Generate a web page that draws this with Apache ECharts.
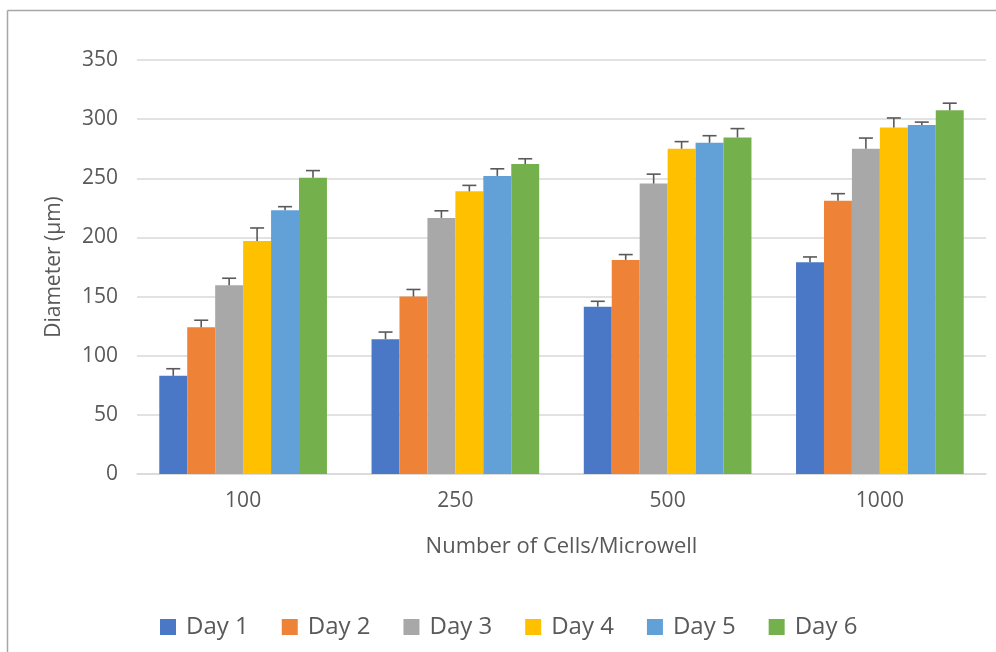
<!DOCTYPE html>
<html>
    <head>
        <meta charset="utf-8">
        <script src="https://cdn.jsdelivr.net/npm/echarts@6/dist/echarts.min.js"></script>
    </head>
    <body>
        <style>
            html, body, #main {
                width: 100%;
                height: 100%;
                margin: 0;
            }
        </style>
        <div id="main"></div>
        <script>

            var categories = ['100', '250', '500', '1000'];
            var days = ['Day 1', 'Day 2', 'Day 3', 'Day 4', 'Day 5', 'Day 6'];
            var colors = ['#4a78c6', '#ee8236', '#a8a8a8', '#ffc000', '#62a0d8', '#74b04b'];

            // mean diameter per day, one value per category
            var day1 = [83, 114, 141.5, 179];
            var day2 = [124, 150, 181, 231];
            var day3 = [159.5, 216.5, 245.5, 275];
            var day4 = [197, 239, 275, 293];
            var day5 = [223, 252, 280, 295];
            var day6 = [250.5, 262, 284.5, 307.5];

            // upper error (std dev)
            var err1 = [6, 6, 4.5, 4.5];
            var err2 = [6, 6, 4.5, 6];
            var err3 = [6, 6, 8, 9];
            var err4 = [11, 5, 6, 8];
            var err5 = [3, 6, 6, 2.5];
            var err6 = [6, 4.5, 7.5, 6];

            var values = [day1, day2, day3, day4, day5, day6];
            var errors = [err1, err2, err3, err4, err5, err6];

            var gapRatio = 0.21;
            var textColor = '#595959';
            var font = 'Open Sans';

            var chart = echarts.init(document.getElementById('main'));

            var series = [];
            days.forEach(function (name, d) {
                series.push({
                    name: name,
                    type: 'bar',
                    data: values[d],
                    barGap: '0%',
                    barCategoryGap: (gapRatio * 100) + '%',
                    itemStyle: { color: colors[d] },
                    z: 2
                });
            });
            days.forEach(function (name, d) {
                var errData = values[d].map(function (v, i) {
                    return [i, v, errors[d][i]];
                });
                series.push({
                    name: 'err' + (d + 1),
                    type: 'custom',
                    data: errData,
                    encode: { x: 0, y: 1 },
                    z: 5,
                    silent: true,
                    renderItem: function (params, api) {
                        var idx = api.value(0);
                        var v = api.value(1);
                        var e = api.value(2);
                        var band = api.size([1, 0])[0];
                        var barW = band * (1 - gapRatio) / 6;
                        var x = api.coord([idx, 0])[0] + (d - 2.5) * barW;
                        var y0 = api.coord([idx, v])[1];
                        var y1 = api.coord([idx, v + e])[1];
                        var style = { stroke: '#595959', lineWidth: 1.6 };
                        return {
                            type: 'group',
                            children: [
                                { type: 'line', shape: { x1: x, y1: y0, x2: x, y2: y1 }, style: style },
                                { type: 'line', shape: { x1: x - 7, y1: y1, x2: x + 7, y2: y1 }, style: style }
                            ]
                        };
                    }
                });
            });

            chart.setOption({
                animation: false,
                textStyle: { fontFamily: font },
                grid: {
                    left: 137,
                    right: 10,
                    top: 60,
                    bottom: 178
                },
                legend: {
                    data: days,
                    left: 155,
                    top: 610,
                    itemWidth: 16,
                    itemHeight: 16,
                    itemGap: 33,
                    icon: 'rect',
                    textStyle: { color: textColor, fontSize: 24, fontFamily: font, padding: [0, 0, 0, 5] }
                },
                xAxis: {
                    type: 'category',
                    data: categories,
                    name: 'Number of Cells/Microwell',
                    nameLocation: 'middle',
                    nameGap: 62,
                    nameTextStyle: { color: textColor, fontSize: 22, fontFamily: font },
                    axisLine: { lineStyle: { color: '#d9d9d9', width: 1.5 } },
                    axisTick: { show: false },
                    axisLabel: { color: textColor, fontSize: 21, margin: 17, fontFamily: font }
                },
                yAxis: {
                    type: 'value',
                    min: 0,
                    max: 350,
                    interval: 50,
                    name: 'Diameter (\u03bcm)',
                    nameLocation: 'middle',
                    nameGap: 72,
                    nameTextStyle: { color: textColor, fontSize: 21, fontFamily: font },
                    axisLine: { show: false },
                    axisTick: { show: false },
                    axisLabel: { color: textColor, fontSize: 21, margin: 19, fontFamily: font },
                    splitLine: { lineStyle: { color: '#d9d9d9', width: 1.5 } }
                },
                graphic: [
                    { type: 'line', shape: { x1: 7.5, y1: 10.5, x2: 7.5, y2: 652 }, style: { stroke: '#a6a6a6', lineWidth: 1.5 } },
                    { type: 'line', shape: { x1: 7.5, y1: 10.5, x2: 996, y2: 10.5 }, style: { stroke: '#a6a6a6', lineWidth: 1.5 } }
                ],
                series: series
            });

        </script>
    </body>
</html>
